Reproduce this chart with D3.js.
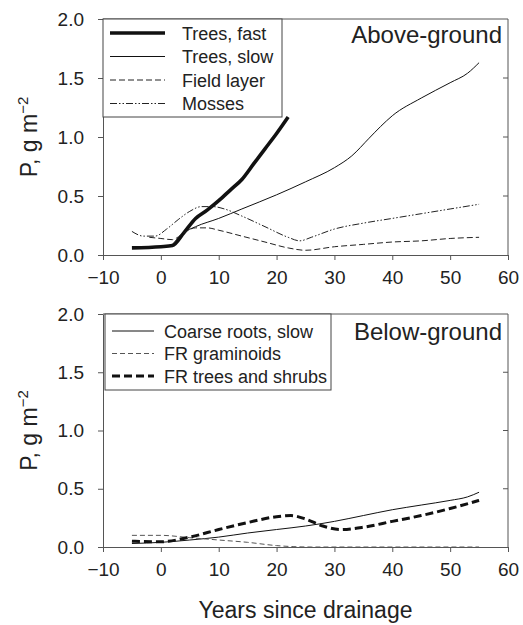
<!DOCTYPE html>
<html lang="en">
  <head>
    <meta charset="UTF-8" />
    <title>P in biomass vs years since drainage</title>
    <script src="https://d3js.org/d3.v7.min.js"></script>
    <style>
      body {
        margin: 0;
        background: white;
        font-family: 'Liberation Sans', Arial, sans-serif;
      }
      svg {
        display: block;
      }
    </style>
  </head>
  <body>
    <svg width="523" height="625"></svg>

    <script>
      // --- data: [years since drainage, P g m-2] ---
      const treesFast = [
        [-5, 0.06], [0, 0.07], [2, 0.08], [4, 0.19], [6, 0.31], [8, 0.38],
        [10, 0.46], [12, 0.55], [14, 0.64], [16, 0.77], [18, 0.9], [20, 1.03], [22, 1.17],
      ];
      const treesSlow = [
        [2, 0.09], [4, 0.19], [6, 0.24], [10, 0.31], [14, 0.39], [20, 0.51],
        [25, 0.62], [30, 0.74], [33, 0.84], [36, 0.99], [38, 1.09], [40, 1.18],
        [45, 1.33], [50, 1.46], [53, 1.54], [55, 1.63],
      ];
      const fieldLayer = [
        [-2, 0.15], [0, 0.14], [2, 0.13], [4, 0.19], [6, 0.23], [8, 0.23],
        [10, 0.21], [14, 0.16], [18, 0.11], [22, 0.06], [25, 0.04], [30, 0.07],
        [35, 0.09], [40, 0.11], [45, 0.12], [50, 0.14], [55, 0.15],
      ];
      const mosses = [
        [-5, 0.2], [-3, 0.16], [-1, 0.16], [1, 0.22], [3, 0.3], [5, 0.37],
        [7, 0.41], [9, 0.41], [11, 0.39], [14, 0.33], [18, 0.24], [22, 0.15],
        [24, 0.12], [26, 0.15], [30, 0.22], [35, 0.27], [40, 0.31], [45, 0.35],
        [50, 0.39], [55, 0.43],
      ];
      const coarseRoots = [
        [-5, 0.03], [0, 0.04], [5, 0.06], [10, 0.085], [15, 0.12], [20, 0.15],
        [25, 0.18], [30, 0.22], [35, 0.27], [40, 0.32], [45, 0.36], [50, 0.4],
        [53, 0.43], [55, 0.47],
      ];
      const frGraminoids = [
        [-5, 0.1], [0, 0.1], [5, 0.08], [10, 0.06], [15, 0.04], [20, 0.012],
        [23, 0.003], [26, 0], [40, 0], [55, 0],
      ];
      const frTrees = [
        [-5, 0.05], [0, 0.045], [5, 0.085], [10, 0.15], [15, 0.21], [20, 0.26],
        [22.5, 0.27], [25, 0.24], [28, 0.18], [31, 0.15], [35, 0.17], [40, 0.22],
        [45, 0.27], [50, 0.33], [55, 0.4],
      ];

      const xTicks = [-10, 0, 10, 20, 30, 40, 50, 60];
      const yTicks = [0, 0.5, 1.0, 1.5, 2.0];

      const svg = d3.select('svg');
      const frameColor = '#555';

      const x = d3.scaleLinear().domain([-10, 60]).range([103, 508]);

      const styles = {
        thick: { w: 3.6, dash: null, color: '#111' },
        thin: { w: 1, dash: null, color: '#111' },
        dashed: { w: 1, dash: '6,3', color: '#222' },
        dashdot: { w: 1, dash: '7,2,1.5,2,1.5,2', color: '#222' },
        lightDash: { w: 1, dash: '5,3', color: '#555' },
        thickDash: { w: 3, dash: '8,4', color: '#111' },
      };

      function panel(opts) {
        const y = d3.scaleLinear().domain([0, 2]).range([opts.bottom, opts.top]);
        const g = svg.append('g');

        // frame: top and right sides
        g.append('line')
          .attr('x1', x(-10)).attr('x2', x(60))
          .attr('y1', y(2)).attr('y2', y(2))
          .attr('stroke', frameColor);
        g.append('line')
          .attr('x1', x(60)).attr('x2', x(60))
          .attr('y1', y(0)).attr('y2', y(2))
          .attr('stroke', frameColor);

        // right-side inward ticks
        g.selectAll('.rtick')
          .data(yTicks.slice(1, -1))
          .join('line')
          .attr('x1', x(60) - 5).attr('x2', x(60))
          .attr('y1', (d) => y(d)).attr('y2', (d) => y(d))
          .attr('stroke', frameColor);

        const xAxis = g.append('g')
          .attr('transform', `translate(0,${y(0)})`)
          .call(d3.axisBottom(x).tickValues(xTicks).tickSize(5).tickPadding(11).tickSizeOuter(0));
        const yAxis = g.append('g')
          .attr('transform', `translate(${x(-10)},0)`)
          .call(d3.axisLeft(y).tickValues(yTicks).tickFormat(d3.format('.1f'))
            .tickSize(5).tickPadding(14).tickSizeOuter(0));

        [xAxis, yAxis].forEach((a) => {
          a.selectAll('path, line').attr('stroke', frameColor);
          a.selectAll('text')
            .attr('fill', '#222')
            .style('font-size', '19px')
            .style('font-family', "'Liberation Sans', Arial, sans-serif");
        });

        const line = d3.line()
          .x((d) => x(d[0]))
          .y((d) => y(d[1]))
          .curve(d3.curveMonotoneX);

        opts.series.forEach((s) => {
          const st = styles[s.style];
          g.append('path')
            .datum(s.data)
            .attr('fill', 'none')
            .attr('stroke', st.color)
            .attr('stroke-width', st.w)
            .attr('stroke-dasharray', st.dash)
            .attr('stroke-linejoin', 'round')
            .attr('d', line);
        });

        // legend
        const lg = opts.legend;
        g.append('rect')
          .attr('x', lg.x).attr('y', lg.y)
          .attr('width', lg.w).attr('height', lg.h)
          .attr('fill', 'white')
          .attr('stroke', '#444');
        opts.series.forEach((s, i) => {
          const st = styles[s.style];
          const cy = lg.y + lg.first + i * lg.step;
          g.append('line')
            .attr('x1', lg.x + lg.l0).attr('x2', lg.x + lg.l1)
            .attr('y1', cy).attr('y2', cy)
            .attr('stroke', st.color)
            .attr('stroke-width', st.w)
            .attr('stroke-dasharray', st.dash);
          g.append('text')
            .attr('x', lg.x + lg.tx)
            .attr('y', cy + 6.5)
            .attr('fill', '#222')
            .style('font-size', '18px')
            .text(s.name);
        });

        // panel label
        g.append('text')
          .attr('x', x(60) - 6)
          .attr('y', opts.labelY)
          .attr('text-anchor', 'end')
          .attr('fill', '#222')
          .style('font-size', '24px')
          .text(opts.label);

        // y axis title
        const yt = g.append('text')
          .attr('transform', `translate(37,${(y(0) + y(2)) / 2}) rotate(-90)`)
          .attr('text-anchor', 'middle')
          .attr('fill', '#222')
          .style('font-size', '23px');
        yt.append('tspan').text('P, g m');
        yt.append('tspan').attr('dy', -9).style('font-size', '15px').text('\u22122');
      }

      panel({
        top: 19,
        bottom: 255,
        label: 'Above-ground',
        labelY: 43,
        legend: { x: 103, y: 19, w: 179, h: 98, first: 14, step: 23.5, l0: 7, l1: 62, tx: 79 },
        series: [
          { name: 'Trees, fast', data: treesFast, style: 'thick' },
          { name: 'Trees, slow', data: treesSlow, style: 'thin' },
          { name: 'Field layer', data: fieldLayer, style: 'dashed' },
          { name: 'Mosses', data: mosses, style: 'dashdot' },
        ],
      });

      panel({
        top: 314,
        bottom: 547,
        label: 'Below-ground',
        labelY: 340,
        legend: { x: 105, y: 314, w: 226, h: 76, first: 17, step: 22.5, l0: 7, l1: 49, tx: 59 },
        series: [
          { name: 'Coarse roots, slow', data: coarseRoots, style: 'thin' },
          { name: 'FR graminoids', data: frGraminoids, style: 'lightDash' },
          { name: 'FR trees and shrubs', data: frTrees, style: 'thickDash' },
        ],
      });

      svg.append('text')
        .attr('x', (x(-10) + x(60)) / 2)
        .attr('y', 618)
        .attr('text-anchor', 'middle')
        .attr('fill', '#222')
        .style('font-size', '23px')
        .text('Years since drainage');
    </script>
  </body>
</html>
